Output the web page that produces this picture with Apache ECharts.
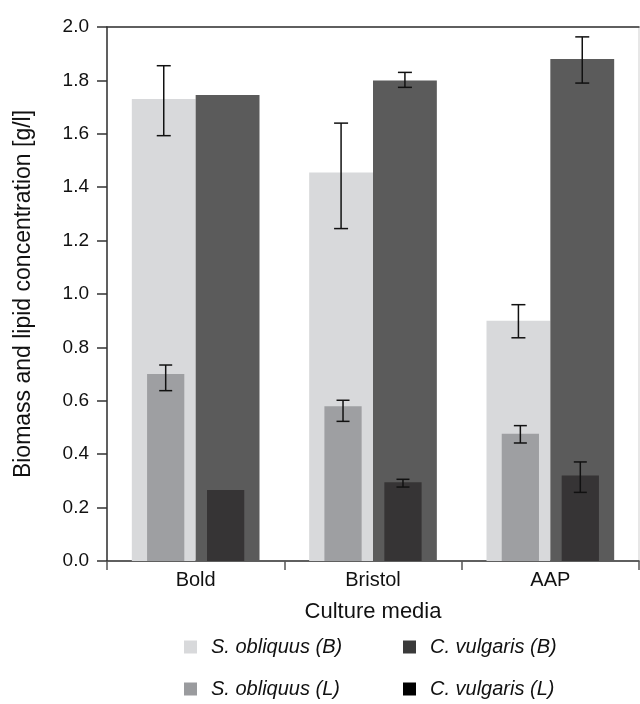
<!DOCTYPE html>
<html>
<head>
<meta charset="utf-8">
<script src="https://cdn.jsdelivr.net/npm/echarts@6/dist/echarts.min.js"></script>
<style>
  html, body { margin: 0; padding: 0; background: #fff; }
  #chart { width: 640px; height: 704px; }
</style>
</head>
<body>
<div id="chart"></div>
<script>
// Culture media on the category axis
const categories = ['Bold', 'Bristol', 'AAP'];

// Biomass (B) and lipid (L) concentrations, g/l
const sObliquusB = [1.73, 1.455, 0.90];
const cVulgarisB = [1.745, 1.80, 1.88];
const sObliquusL = [0.70, 0.58, 0.477];
const cVulgarisL = [0.266, 0.295, 0.32];

// Error bar ranges [low, high]; null where no bar is drawn
const sObliquusBErr = [[1.593, 1.855], [1.245, 1.640], [0.836, 0.960]];
const cVulgarisBErr = [null, [1.774, 1.830], [1.790, 1.963]];
const sObliquusLErr = [[0.638, 0.734], [0.523, 0.602], [0.442, 0.507]];
const cVulgarisLErr = [null, [0.277, 0.306], [0.257, 0.371]];

// Y axis ticks
const yTicks = [0, 0.2, 0.4, 0.6, 0.8, 1.0, 1.2, 1.4, 1.6, 1.8, 2.0];

const FONT = '"Liberation Sans", Arial, Helvetica, sans-serif';
const AXIS = '#333333';

const names = ['S. obliquus (B)', 'C. vulgaris (B)', 'S. obliquus (L)', 'C. vulgaris (L)'];
const barColors = ['#d8d9db', '#5b5b5b', '#9e9fa2', '#363435'];
const legendColors = ['#d8d9db', '#3a3a3a', '#9a9b9e', '#000000'];

// Biomass bars: two wide bars per category, touching
const B_WIDTH = 0.36;
// Lipid bars: narrower, drawn over the biomass bars
const L_WIDTH = 0.21;
const L_GAP = 0.61;
const B_OFF = B_WIDTH / 2;
const L_OFF = L_WIDTH * (1 + L_GAP) / 2;

function errData(ranges) {
  const out = [];
  ranges.forEach((r, i) => { if (r) out.push([i, r[0], r[1]]); });
  return out;
}

function errorBar(offsetFrac, cap) {
  return function (params, api) {
    const i = api.value(0);
    const band = api.size([1, 0])[0];
    const pLo = api.coord([i, api.value(1)]);
    const pHi = api.coord([i, api.value(2)]);
    const x = pLo[0] + offsetFrac * band;
    const style = { stroke: '#111', lineWidth: 1.5 };
    return {
      type: 'group',
      children: [
        { type: 'line', shape: { x1: x, y1: pLo[1], x2: x, y2: pHi[1] }, style },
        { type: 'line', shape: { x1: x - cap / 2, y1: pHi[1], x2: x + cap / 2, y2: pHi[1] }, style },
        { type: 'line', shape: { x1: x - cap / 2, y1: pLo[1], x2: x + cap / 2, y2: pLo[1] }, style }
      ]
    };
  };
}

function errSeries(ranges, axisIdx, off, cap) {
  return {
    type: 'custom',
    xAxisIndex: axisIdx,
    renderItem: errorBar(off, cap),
    data: errData(ranges),
    encode: { x: 0, y: [1, 2] },
    z: 10,
    silent: true
  };
}

function legendAt(idx, left, top) {
  return {
    data: [{ name: names[idx], itemStyle: { color: legendColors[idx] } }],
    left: left,
    top: top,
    padding: 0,
    icon: 'rect',
    itemWidth: 13,
    itemHeight: 13,
    selectedMode: false,
    textStyle: {
      fontFamily: FONT,
      fontSize: 20,
      fontStyle: 'italic',
      color: '#111',
      padding: [0, 0, 0, 9]
    }
  };
}

const chart = echarts.init(document.getElementById('chart'), null, { renderer: 'canvas' });

chart.setOption({
  animation: false,
  backgroundColor: '#ffffff',
  grid: {
    left: 107, right: 1, top: 27, bottom: 143,
    show: true, borderColor: '#cfcfcf', borderWidth: 1, backgroundColor: 'transparent'
  },
  legend: [
    legendAt(0, 184, 637),
    legendAt(1, 403, 637),
    legendAt(2, 184, 679),
    legendAt(3, 403, 679)
  ],
  xAxis: [
    {
      type: 'category',
      data: categories,
      position: 'bottom',
      name: 'Culture media',
      nameLocation: 'middle',
      nameGap: 40,
      nameTextStyle: { fontFamily: FONT, fontSize: 22, color: '#111' },
      axisLine: { lineStyle: { color: AXIS, width: 1.5 } },
      axisTick: { show: true, length: 9, lineStyle: { color: '#555', width: 1.5 } },
      axisLabel: { fontFamily: FONT, fontSize: 20, color: '#111', margin: 9 },
      splitLine: { show: false }
    },
    {
      type: 'category',
      data: categories,
      position: 'top',
      axisLine: { lineStyle: { color: AXIS, width: 1.5 } },
      axisTick: { show: false },
      axisLabel: { show: false },
      splitLine: { show: false }
    }
  ],
  yAxis: {
    type: 'value',
    min: yTicks[0],
    max: yTicks[yTicks.length - 1],
    interval: 0.2,
    name: 'Biomass and lipid concentration [g/l]',
    nameLocation: 'middle',
    nameGap: 72,
    nameTextStyle: { fontFamily: FONT, fontSize: 23, color: '#111' },
    axisLine: { show: true, lineStyle: { color: AXIS, width: 1.5 } },
    axisTick: { show: true, length: 10, lineStyle: { color: AXIS, width: 1.5 } },
    axisLabel: {
      fontFamily: FONT, fontSize: 19, color: '#111', margin: 18,
      formatter: v => v.toFixed(1)
    },
    splitLine: { show: false }
  },
  series: [
    {
      name: names[0], type: 'bar', xAxisIndex: 0, data: sObliquusB,
      barWidth: (B_WIDTH * 100) + '%', barGap: '0%',
      itemStyle: { color: barColors[0] }, z: 2
    },
    {
      name: names[1], type: 'bar', xAxisIndex: 0, data: cVulgarisB,
      barWidth: (B_WIDTH * 100) + '%', barGap: '0%',
      itemStyle: { color: barColors[1] }, z: 2
    },
    {
      name: names[2], type: 'bar', xAxisIndex: 1, data: sObliquusL,
      barWidth: (L_WIDTH * 100) + '%', barGap: (L_GAP * 100) + '%',
      itemStyle: { color: barColors[2] }, z: 3
    },
    {
      name: names[3], type: 'bar', xAxisIndex: 1, data: cVulgarisL,
      barWidth: (L_WIDTH * 100) + '%', barGap: (L_GAP * 100) + '%',
      itemStyle: { color: barColors[3] }, z: 3
    },
    errSeries(sObliquusBErr, 0, -B_OFF, 14),
    errSeries(cVulgarisBErr, 0, B_OFF, 14),
    errSeries(sObliquusLErr, 1, -L_OFF, 13),
    errSeries(cVulgarisLErr, 1, L_OFF, 13)
  ]
});
</script>
</body>
</html>
